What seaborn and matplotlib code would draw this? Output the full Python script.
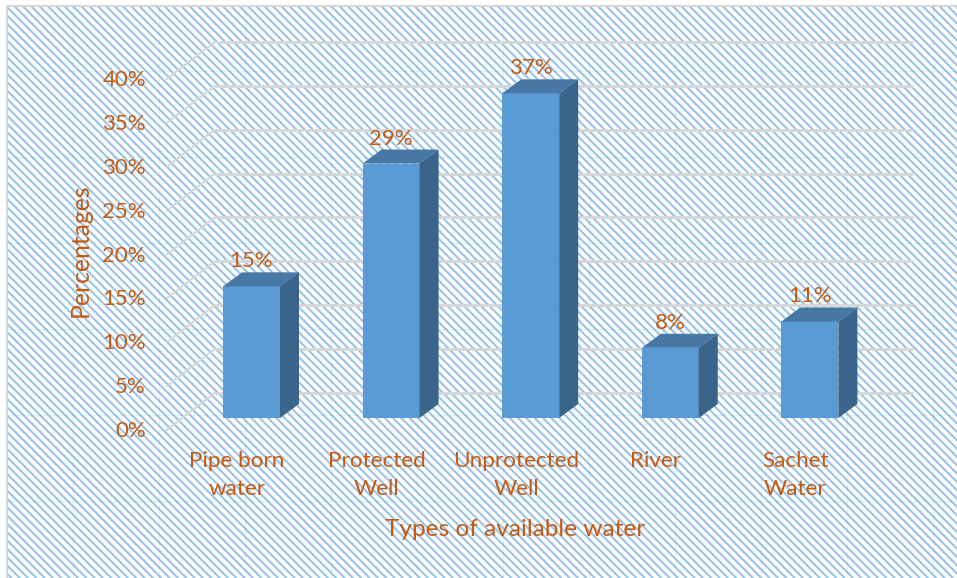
import matplotlib
matplotlib.use("Agg")
import matplotlib.pyplot as plt
from matplotlib.patches import Rectangle, Polygon
from matplotlib.transforms import ScaledTranslation
import pandas as pd
import seaborn as sns

categories = ["Pipe born\nwater", "Protected\nWell", "Unprotected\nWell", "River", "Sachet\nWater"]
values = [15, 29, 37, 8, 11]
value_labels = ["15%", "29%", "37%", "8%", "11%"]
y_ticks = [0, 5, 10, 15, 20, 25, 30, 35, 40]
y_tick_labels = ["0%", "5%", "10%", "15%", "20%", "25%", "30%", "35%", "40%"]
x_title = "Types of available water"
y_title = "Percentages"

W, H = 957, 578
TEXT = "#C55A11"
FRONT, TOP, SIDE = "#5B9BD5", "#4777A5", "#3A6489"
GRID = "#D6D6D6"

sns.set_theme(style="white")
plt.rcParams["font.family"] = ["Lato", "DejaVu Sans"]
plt.rcParams["hatch.linewidth"] = 1.5

fig = plt.figure(figsize=(W / 100, H / 100), dpi=100, facecolor="white")

# background panel, in pixel coordinates
bg = fig.add_axes([0, 0, 1, 1], zorder=0)
bg.set_xlim(0, W)
bg.set_ylim(H, 0)
bg.axis("off")
bg.add_patch(Rectangle((7, 6), W, H, facecolor="white", edgecolor="#9AC3EA", hatch="\\\\\\\\", linewidth=0))
for sx in range(73, W, 86):
    bg.plot([sx, sx], [6, H], color="#5B9BD5", lw=0.8, alpha=0.15)
for sy in range(71, H, 86):
    bg.plot([7, W], [sy, sy], color="#5B9BD5", lw=0.8, alpha=0.15)
bg.plot([7, 7], [H, 6], color=GRID, lw=1.6, solid_capstyle="butt")
bg.plot([6, W], [6, 6], color=GRID, lw=1.6, solid_capstyle="butt")

# bar-front plane: x -0.5..4.5 -> 181.7..879.7 px, y 0..40 -> 418..67 px
PX_X, PX_Y = 139.6, 8.775
ax = fig.add_axes([181.7 / W, (H - 418) / H, 698 / W, 351 / H], zorder=1)
ax.patch.set_visible(False)

df = pd.DataFrame({"category": categories, "value": values})
sns.barplot(data=df, x="category", y="value", color=FRONT, saturation=1, width=0.408, ax=ax)
ax.set_xlim(-0.5, 4.5)
ax.set_ylim(0, 40)
sns.despine(ax=ax, left=True, bottom=True)

# walls: gridlines on back plane with diagonal running to the front of the floor
back_dx, back_dy = 33 / PX_X, 25 / PX_Y
front_dx, front_dy = -15 / PX_X, -12 / PX_Y
for v in y_ticks:
    ax.plot([-0.5 + back_dx, 4.5 + back_dx], [v + back_dy, v + back_dy], color=GRID, lw=2.0,
            clip_on=False, zorder=1, solid_capstyle="butt")
    ax.plot([-0.5 + front_dx, -0.5 + back_dx], [v + front_dy, v + back_dy], color=GRID, lw=1.5,
            clip_on=False, zorder=1)

# 3-D faces derived from the bars seaborn drew
depth_x, depth_y = 19 / PX_X, 14 / PX_Y
for bar in ax.patches:
    bar.set_zorder(3)
    bar.set_linewidth(0)
    x0, x1, h = bar.get_x(), bar.get_x() + bar.get_width(), bar.get_height()
    ax.add_patch(Polygon([(x0, h), (x1, h), (x1 + depth_x, h + depth_y), (x0 + depth_x, h + depth_y)],
                         closed=True, facecolor=TOP, edgecolor="none", clip_on=False, zorder=3))
    ax.add_patch(Polygon([(x1, 0), (x1 + depth_x, depth_y), (x1 + depth_x, h + depth_y), (x1, h)],
                         closed=True, facecolor=SIDE, edgecolor="none", clip_on=False, zorder=3))

for i, (v, lab) in enumerate(zip(values, value_labels)):
    ax.annotate(lab, (i, v), xytext=(0, 25 * 0.72), textcoords="offset points", ha="center", va="center",
                color=TEXT, fontsize=16, zorder=5, annotation_clip=False)

# tick labels, shifted to the front edge of the floor
ax.set_yticks(y_ticks, y_tick_labels)
ax.set_xticks(range(len(categories)), categories)
ax.tick_params(axis="y", length=0, pad=25.7, labelsize=16, labelcolor=TEXT)
ax.tick_params(axis="x", length=0, pad=23.6, labelsize=16.2, labelcolor=TEXT)
shift_y = ScaledTranslation(0, -0.13, fig.dpi_scale_trans)
for t in ax.get_yticklabels():
    t.set_transform(t.get_transform() + shift_y)
    t.set_va("center")
shift_x = ScaledTranslation(-0.145, 0, fig.dpi_scale_trans)
for t in ax.get_xticklabels():
    t.set_transform(t.get_transform() + shift_x)
    t.set_linespacing(1.5)

ax.set_xlabel("")
ax.set_ylabel("")
fig.text(515 / W, 1 - 530 / H, x_title, color=TEXT, fontsize=17.6, ha="center", va="center")
fig.text(80 / W, 1 - 250 / H, y_title, color=TEXT, fontsize=17.8, ha="center", va="center", rotation=90)

fig.savefig("out.png", dpi=100)
